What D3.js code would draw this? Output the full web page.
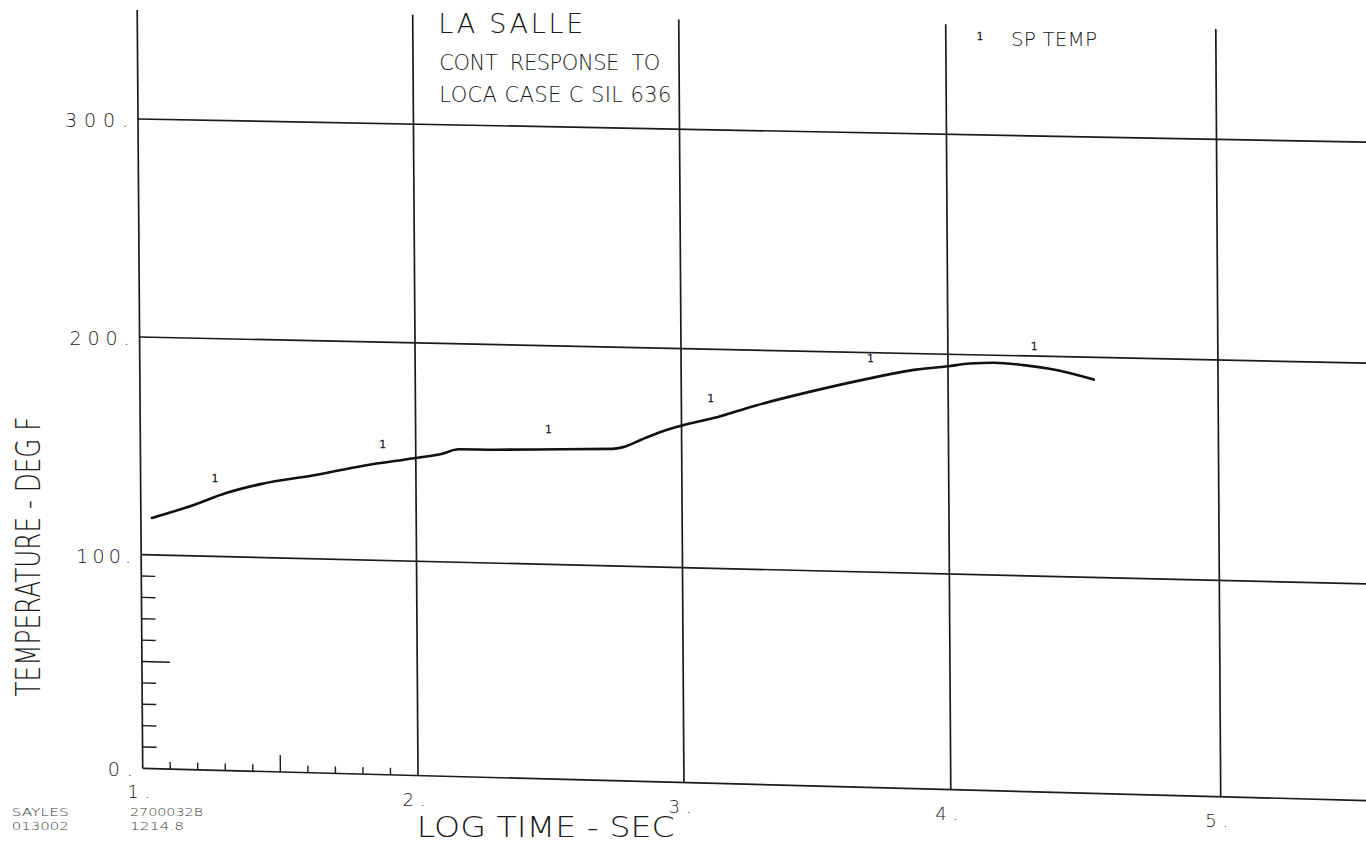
<!DOCTYPE html>
<html>
<head>
<meta charset="utf-8">
<title>LA SALLE - CONT RESPONSE TO LOCA CASE C SIL 636</title>
<script src="https://cdn.jsdelivr.net/npm/d3@7"></script>
<style>
  html, body { margin: 0; padding: 0; background: #fff; }
  svg { display: block; }
  text { font-family: "DejaVu Sans", "Liberation Sans", sans-serif; font-weight: 200; fill: #1a1a1a; }
</style>
</head>
<body>
<svg id="chart" width="1366" height="844"></svg>
<script>
// ---- axes ----------------------------------------------------------------
const xTicks = [1, 2, 3, 4, 5];                 // log10(time, s)
const xTickLabels = ["1.", "2.", "3.", "4.", "5."];
const yTicks = [0, 100, 200, 300];              // deg F
const yTickLabels = ["0.", "100.", "200.", "300."];

// ---- SP TEMP curve ------------------------------------------------------
const logTime = [1.04, 1.19, 1.31, 1.44, 1.63, 1.81, 2.00, 2.10, 2.16, 2.30, 2.55,
                 2.74, 2.78, 2.85, 2.93, 3.00, 3.12, 3.28, 3.48, 3.68, 3.88, 4.00,
                 4.08, 4.17, 4.28, 4.41, 4.54];
const spTemp  = [117.0, 123.3, 129.2, 133.8, 138.3, 143.2, 147.3, 149.5, 151.7, 151.9, 152.8,
                 153.5, 154.4, 158.1, 162.1, 164.8, 168.6, 174.8, 181.5, 187.5, 192.7, 194.5,
                 196.0, 196.6, 195.8, 193.7, 189.9];

// curve identification symbols ("1") written by the plotter
const symbolLogTime = [1.27, 1.88, 2.50, 3.11, 3.71, 4.32];
const symbolTemp    = [136.2, 153.2, 161.7, 177.6, 197.4, 204.8];

// ---- plot frame -----------------------------------------------------------
// Local frame: x measured right from the origin, y measured up from the origin.
const x = d3.scaleLinear().domain(xTicks).range([0, 275.5, 541.6, 808.6, 1078.7]);
const y = d3.scaleLinear().domain(yTicks).range([0, 214.9, 433.9, 653.2]);
const W = x(5) - x(1), H = y(300) - y(0);

// The plotter sheet is slightly skewed: the local frame is mapped onto the
// page through its four corner points (bilinear).
const C00 = [142.7, 768.3], C10 = [1220.7, 796.7], C01 = [138.0, 119.0], C11 = [1216.5, 139.3];
function warp(lx, ly) {
  const s = lx / W, t = ly / H;
  return [
    (1 - s) * (1 - t) * C00[0] + s * (1 - t) * C10[0] + (1 - s) * t * C01[0] + s * t * C11[0],
    (1 - s) * (1 - t) * C00[1] + s * (1 - t) * C10[1] + (1 - s) * t * C01[1] + s * t * C11[1]
  ];
}
const P = (xv, yv) => warp(x(xv), y(yv));

const svg = d3.select("#chart");
const ink = "#1b1b1b";
const seg = (a, b) => ({ x1: a[0], y1: a[1], x2: b[0], y2: b[1] });

const Y_TOP = 350;   // top of the frame
const X_END = 5.62;  // grid runs off the sheet on the right

// horizontal grid lines
const gridH = yTicks.map(v => seg(P(1, v), P(X_END, v)));
// vertical grid lines
const gridV = xTicks.map(v => seg(P(v, 0), P(v, Y_TOP)));

const grid = svg.append("g").attr("stroke", ink).attr("stroke-width", 1.7).attr("fill", "none");
grid.selectAll("line.h").data(gridH).join("line").attr("class", "h")
  .attr("x1", d => d.x1).attr("y1", d => d.y1).attr("x2", d => d.x2).attr("y2", d => d.y2);
grid.selectAll("line.v").data(gridV).join("line").attr("class", "v")
  .attr("x1", d => d.x1).attr("y1", d => d.y1).attr("x2", d => d.x2).attr("y2", d => d.y2);

// minor ticks in the first decade / first hundred
const xMinor = d3.range(1, 10).map(i => 1 + i / 10);
const yMinor = d3.range(1, 10).map(i => i * 10);
const ticks = svg.append("g").attr("stroke", ink).attr("stroke-width", 1.4);
ticks.selectAll("line.xm").data(xMinor).join("line").attr("class", "xm")
  .each(function (v, i) {
    const len = i === 4 ? 17 : 7;
    const a = warp(x(v), 0), b = warp(x(v), len);
    d3.select(this).attr("x1", a[0]).attr("y1", a[1]).attr("x2", b[0]).attr("y2", b[1]);
  });
ticks.selectAll("line.ym").data(yMinor).join("line").attr("class", "ym")
  .each(function (v, i) {
    const len = i === 4 ? 28 : 14;
    const a = warp(0, y(v)), b = warp(len, y(v));
    d3.select(this).attr("x1", a[0]).attr("y1", a[1]).attr("x2", b[0]).attr("y2", b[1]);
  });

// tick labels
const yLabelLen = [25, 55, 60, 63];
svg.append("g").selectAll("text").data(yTicks).join("text")
  .attr("x", d => P(1, d)[0] - 10)
  .attr("y", d => P(1, d)[1] + 8)
  .attr("text-anchor", "end")
  .attr("font-size", 19)
  .attr("textLength", (d, i) => yLabelLen[i])
  .attr("lengthAdjust", "spacing")
  .text((d, i) => yTickLabels[i]);

svg.append("g").selectAll("text").data(xTicks).join("text")
  .attr("x", d => P(d, 0)[0] - 4)
  .attr("y", d => P(d, 0)[1] + 30)
  .attr("text-anchor", "middle")
  .attr("font-size", 18)
  .attr("textLength", 23)
  .attr("lengthAdjust", "spacing")
  .text((d, i) => xTickLabels[i]);

// axis titles
svg.append("text")
  .attr("x", 416.7).attr("y", 837)
  .attr("font-size", 28)
  .attr("textLength", 258).attr("lengthAdjust", "spacingAndGlyphs")
  .text("LOG TIME - SEC");

svg.append("text")
  .attr("transform", "translate(39.5,556.5) rotate(-90)")
  .attr("text-anchor", "middle")
  .attr("font-size", 33)
  .attr("textLength", 280).attr("lengthAdjust", "spacingAndGlyphs")
  .text("TEMPERATURE - DEG F");

// title block
const title = [
  { t: "LA SALLE", x: 438.3, y: 33.3, size: 27, len: 145 },
  { t: "CONT  RESPONSE  TO", x: 439.3, y: 70, size: 21, len: 221 },
  { t: "LOCA CASE C SIL 636", x: 439.3, y: 101.7, size: 21, len: 232 }
];
svg.append("g").selectAll("text").data(title).join("text")
  .attr("x", d => d.x).attr("y", d => d.y)
  .attr("font-size", d => d.size)
  .attr("textLength", d => d.len).attr("lengthAdjust", "spacing")
  .attr("xml:space", "preserve")
  .text(d => d.t);

// symbol glyph shared by legend and curve
const symbolStyle = sel => sel
  .attr("text-anchor", "middle")
  .attr("font-size", 11).attr("font-weight", 700)
  .style("fill", "#111").attr("stroke", "#111").attr("stroke-width", 0.5);

// legend
svg.append("text").attr("x", 980).attr("y", 39.5).call(symbolStyle).text("1");
svg.append("text").attr("x", 1011).attr("y", 45.5)
  .attr("font-size", 20).attr("textLength", 86).attr("lengthAdjust", "spacing")
  .text("SP TEMP");

// SP TEMP curve
const curve = logTime.map((t, i) => P(t, spTemp[i]));
svg.append("path")
  .attr("d", d3.line().curve(d3.curveMonotoneX)(curve))
  .attr("fill", "none").attr("stroke", "#111").attr("stroke-width", 2.6)
  .attr("stroke-linejoin", "round").attr("stroke-linecap", "round");

// curve symbols
svg.append("g").selectAll("text").data(symbolLogTime).join("text")
  .attr("x", (d, i) => P(d, symbolTemp[i])[0])
  .attr("y", (d, i) => P(d, symbolTemp[i])[1] + 4)
  .call(symbolStyle)
  .text("1");

// plot identification
const footer = [
  { t: "SAYLES", x: 11.7, y: 816, len: 57 },
  { t: "013002", x: 11.7, y: 830, len: 57 },
  { t: "2700032B", x: 130, y: 816, len: 73 },
  { t: "1214.8", x: 130, y: 830, len: 54 }
];
svg.append("g").selectAll("text").data(footer).join("text")
  .attr("x", d => d.x).attr("y", d => d.y)
  .attr("font-size", 11).attr("font-weight", 400).style("fill", "#3a3a3a")
  .attr("textLength", d => d.len).attr("lengthAdjust", "spacingAndGlyphs")
  .text(d => d.t);
</script>
</body>
</html>
